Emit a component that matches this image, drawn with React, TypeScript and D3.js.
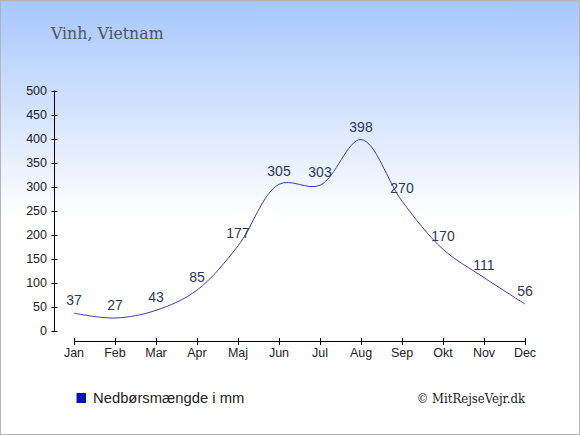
import React from "react";
import * as d3 from "d3";

const months = ["Jan", "Feb", "Mar", "Apr", "Maj", "Jun", "Jul", "Aug", "Sep", "Okt", "Nov", "Dec"];
const rainfall = [37, 27, 43, 85, 177, 305, 303, 398, 270, 170, 111, 56];
const yTicks = [0, 50, 100, 150, 200, 250, 300, 350, 400, 450, 500];

const W = 580;
const H = 435;

export default function App() {
  const x = d3.scalePoint<string>().domain(months).range([74, 525]);
  const y = d3.scaleLinear().domain([0, 500]).range([331, 90.5]);
  const line = d3
    .line<number>()
    .x((_, i) => x(months[i]) as number)
    .y((d) => y(d))
    .curve(d3.curveCatmullRom.alpha(0.5));

  return (
    <svg
      width={W}
      height={H}
      style={{ position: "absolute", left: 0, top: 0 }}
      xmlns="http://www.w3.org/2000/svg"
    >
      <defs>
        <linearGradient id="bg" x1="0" y1="0" x2="0" y2="1">
          <stop offset="0" stopColor="#a7c7fe" />
          <stop offset="0.5" stopColor="#ffffff" />
          <stop offset="1" stopColor="#ffffff" />
        </linearGradient>
      </defs>
      <rect x={0.5} y={0.5} width={W - 1} height={H - 1} fill="url(#bg)" stroke="#b4b4b4" strokeWidth={1} />
      <text
        x={51}
        y={38.5}
        fontFamily="'DejaVu Serif Condensed', 'DejaVu Serif'"
        style={{ fontStretch: "condensed" }}
        fontSize={17.5}
        fill="#555555"
      >
        Vinh, Vietnam
      </text>

      {/* y axis */}
      <line x1={54.5} x2={54.5} y1={y(500)} y2={y(0)} stroke="#000" strokeWidth={1} />
      {yTicks.map((t) => (
        <g key={t}>
          <line x1={51.5} x2={57.5} y1={Math.round(y(t)) + 0.5} y2={Math.round(y(t)) + 0.5} stroke="#000" />
          <text
            x={47}
            y={y(t)}
            dy="0.35em"
            textAnchor="end"
            fontFamily="Liberation Sans, Arial"
            fontSize={12.5}
            fill="#222"
          >
            {t}
          </text>
        </g>
      ))}

      {/* x axis */}
      <line x1={x("Jan")} x2={x("Dec")} y1={341.5} y2={341.5} stroke="#000" strokeWidth={1} />
      {months.map((m) => (
        <g key={m}>
          <line x1={(x(m) as number) + 0.5} x2={(x(m) as number) + 0.5} y1={338} y2={345} stroke="#000" />
          <text
            x={x(m)}
            y={357}
            textAnchor="middle"
            fontFamily="Liberation Sans, Arial"
            fontSize={12.5}
            fill="#222"
          >
            {m}
          </text>
        </g>
      ))}

      <path d={line(rainfall) || ""} fill="none" stroke="#3a3ac8" strokeWidth={1} />

      {rainfall.map((v, i) => (
        <text
          key={i}
          x={x(months[i])}
          y={y(v) - 8}
          textAnchor="middle"
          fontFamily="Liberation Sans, Arial"
          fontSize={14}
          fill="#2b3956"
        >
          {v}
        </text>
      ))}

      <rect x={76.5} y={393} width={9.5} height={10} fill="#0a14b0" />
      <text x={93} y={403} fontFamily="Liberation Sans, Arial" fontSize={14.8} fill="#222">
        Nedbørsmængde i mm
      </text>
      <text
        x={525}
        y={403}
        textAnchor="end"
        fontFamily="'DejaVu Serif Condensed', 'DejaVu Serif'"
        style={{ fontStretch: "condensed" }}
        fontSize={13}
        fill="#222"
      >
        © MitRejseVejr.dk
      </text>
    </svg>
  );
}
